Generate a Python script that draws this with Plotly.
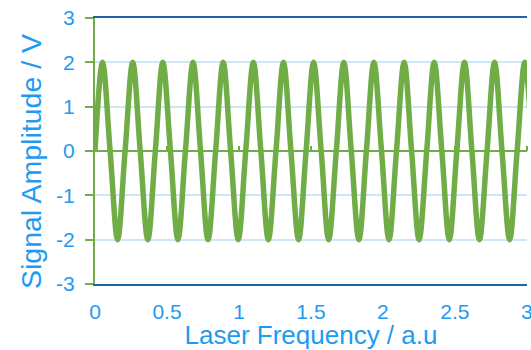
import plotly.graph_objects as go

# Signal samples (peaks, zero crossings, troughs)
freq_x = [0, 0.052, 0.105, 0.157, 0.209, 0.262, 0.314, 0.367, 0.419, 0.471,
          0.524, 0.576, 0.628, 0.681, 0.733, 0.785, 0.838, 0.890, 0.942, 0.995,
          1.047, 1.100, 1.152, 1.204, 1.257, 1.309, 1.361, 1.414, 1.466, 1.518,
          1.571, 1.623, 1.676, 1.728, 1.780, 1.833, 1.885, 1.937, 1.990, 2.042,
          2.094, 2.147, 2.199, 2.251, 2.304, 2.356, 2.409, 2.461, 2.513, 2.566,
          2.618, 2.670, 2.723, 2.775, 2.827, 2.880, 2.932, 2.985, 3.037]
amplitude = [0, 2, 0, -2, 0, 2, 0, -2, 0, 2,
             0, -2, 0, 2, 0, -2, 0, 2, 0, -2,
             0, 2, 0, -2, 0, 2, 0, -2, 0, 2,
             0, -2, 0, 2, 0, -2, 0, 2, 0, -2,
             0, 2, 0, -2, 0, 2, 0, -2, 0, 2,
             0, -2, 0, 2, 0, -2, 0, 2, 0]

x_ticks = [0, 0.5, 1, 1.5, 2, 2.5, 3]
x_tick_text = ["0", "0.5", "1", "1.5", "2", "2.5", "3"]
y_ticks = [3, 2, 1, 0, -1, -2, -3]
y_tick_text = ["3", "2", "1", "0", "-1", "-2", "-3"]

GREEN = "#70AD47"
BLUE_TXT = "#1E9BF0"
DARK_BLUE = "#1F66A8"
GRID = "#CDE6F8"
FONT = "Liberation Sans, Arial, sans-serif"

fig = go.Figure()
fig.add_trace(go.Scatter(
    x=freq_x, y=amplitude, mode="lines",
    line=dict(color=GREEN, width=5.5, shape="spline", smoothing=1.0),
    showlegend=False, hoverinfo="skip"))
fig.add_trace(go.Scatter(x=[None], y=[None], xaxis="x2", showlegend=False,
                         hoverinfo="skip"))

fig.update_layout(
    width=533, height=350,
    margin=dict(l=95, r=0, t=18, b=66),
    paper_bgcolor="white", plot_bgcolor="white",
    font=dict(family=FONT, color=BLUE_TXT, size=21),
    xaxis=dict(
        range=[0, 3.0005], tickvals=x_ticks, ticktext=x_tick_text,
        showgrid=False, zeroline=False,
        showline=True, linecolor=DARK_BLUE, linewidth=2, mirror=True,
        ticks="", ticklabelstandoff=8, ticklabeloverflow="allow",
        tickfont=dict(size=21, color=BLUE_TXT),
        title=dict(text="Laser Frequency / a.u", font=dict(size=26, color=BLUE_TXT),
                   standoff=0),
    ),
    xaxis2=dict(
        overlaying="x", matches="x", anchor="free", position=0.5, side="top",
        tickvals=x_ticks, showticklabels=False,
        ticks="outside", ticklen=5, tickwidth=1.5, tickcolor=GREEN,
        showgrid=False, zeroline=False, showline=False, layer="below traces",
    ),
    yaxis=dict(
        range=[-3, 3], tickvals=y_ticks, ticktext=y_tick_text,
        showgrid=True, gridcolor=GRID, gridwidth=1.5,
        zeroline=True, zerolinecolor=GREEN, zerolinewidth=2,
        showline=True, linecolor=GREEN, linewidth=2,
        ticks="outside", ticklen=8, tickwidth=2, tickcolor=GREEN,
        ticklabelstandoff=6,
        tickfont=dict(size=21, color=BLUE_TXT),
    ),
    annotations=[dict(
        text="Signal Amplitude / V", textangle=-90,
        xref="paper", yref="paper", x=-0.148, y=0.5, yshift=-11,
        xanchor="center", yanchor="middle", showarrow=False,
        font=dict(size=28.5, color=BLUE_TXT, family=FONT))],
)

fig.write_html(
    "out.html",
    config={"displayModeBar": False},
    post_script="document.body.style.margin='0';"
                "document.body.style.overflow='hidden';"
                "document.documentElement.style.overflow='hidden';")
